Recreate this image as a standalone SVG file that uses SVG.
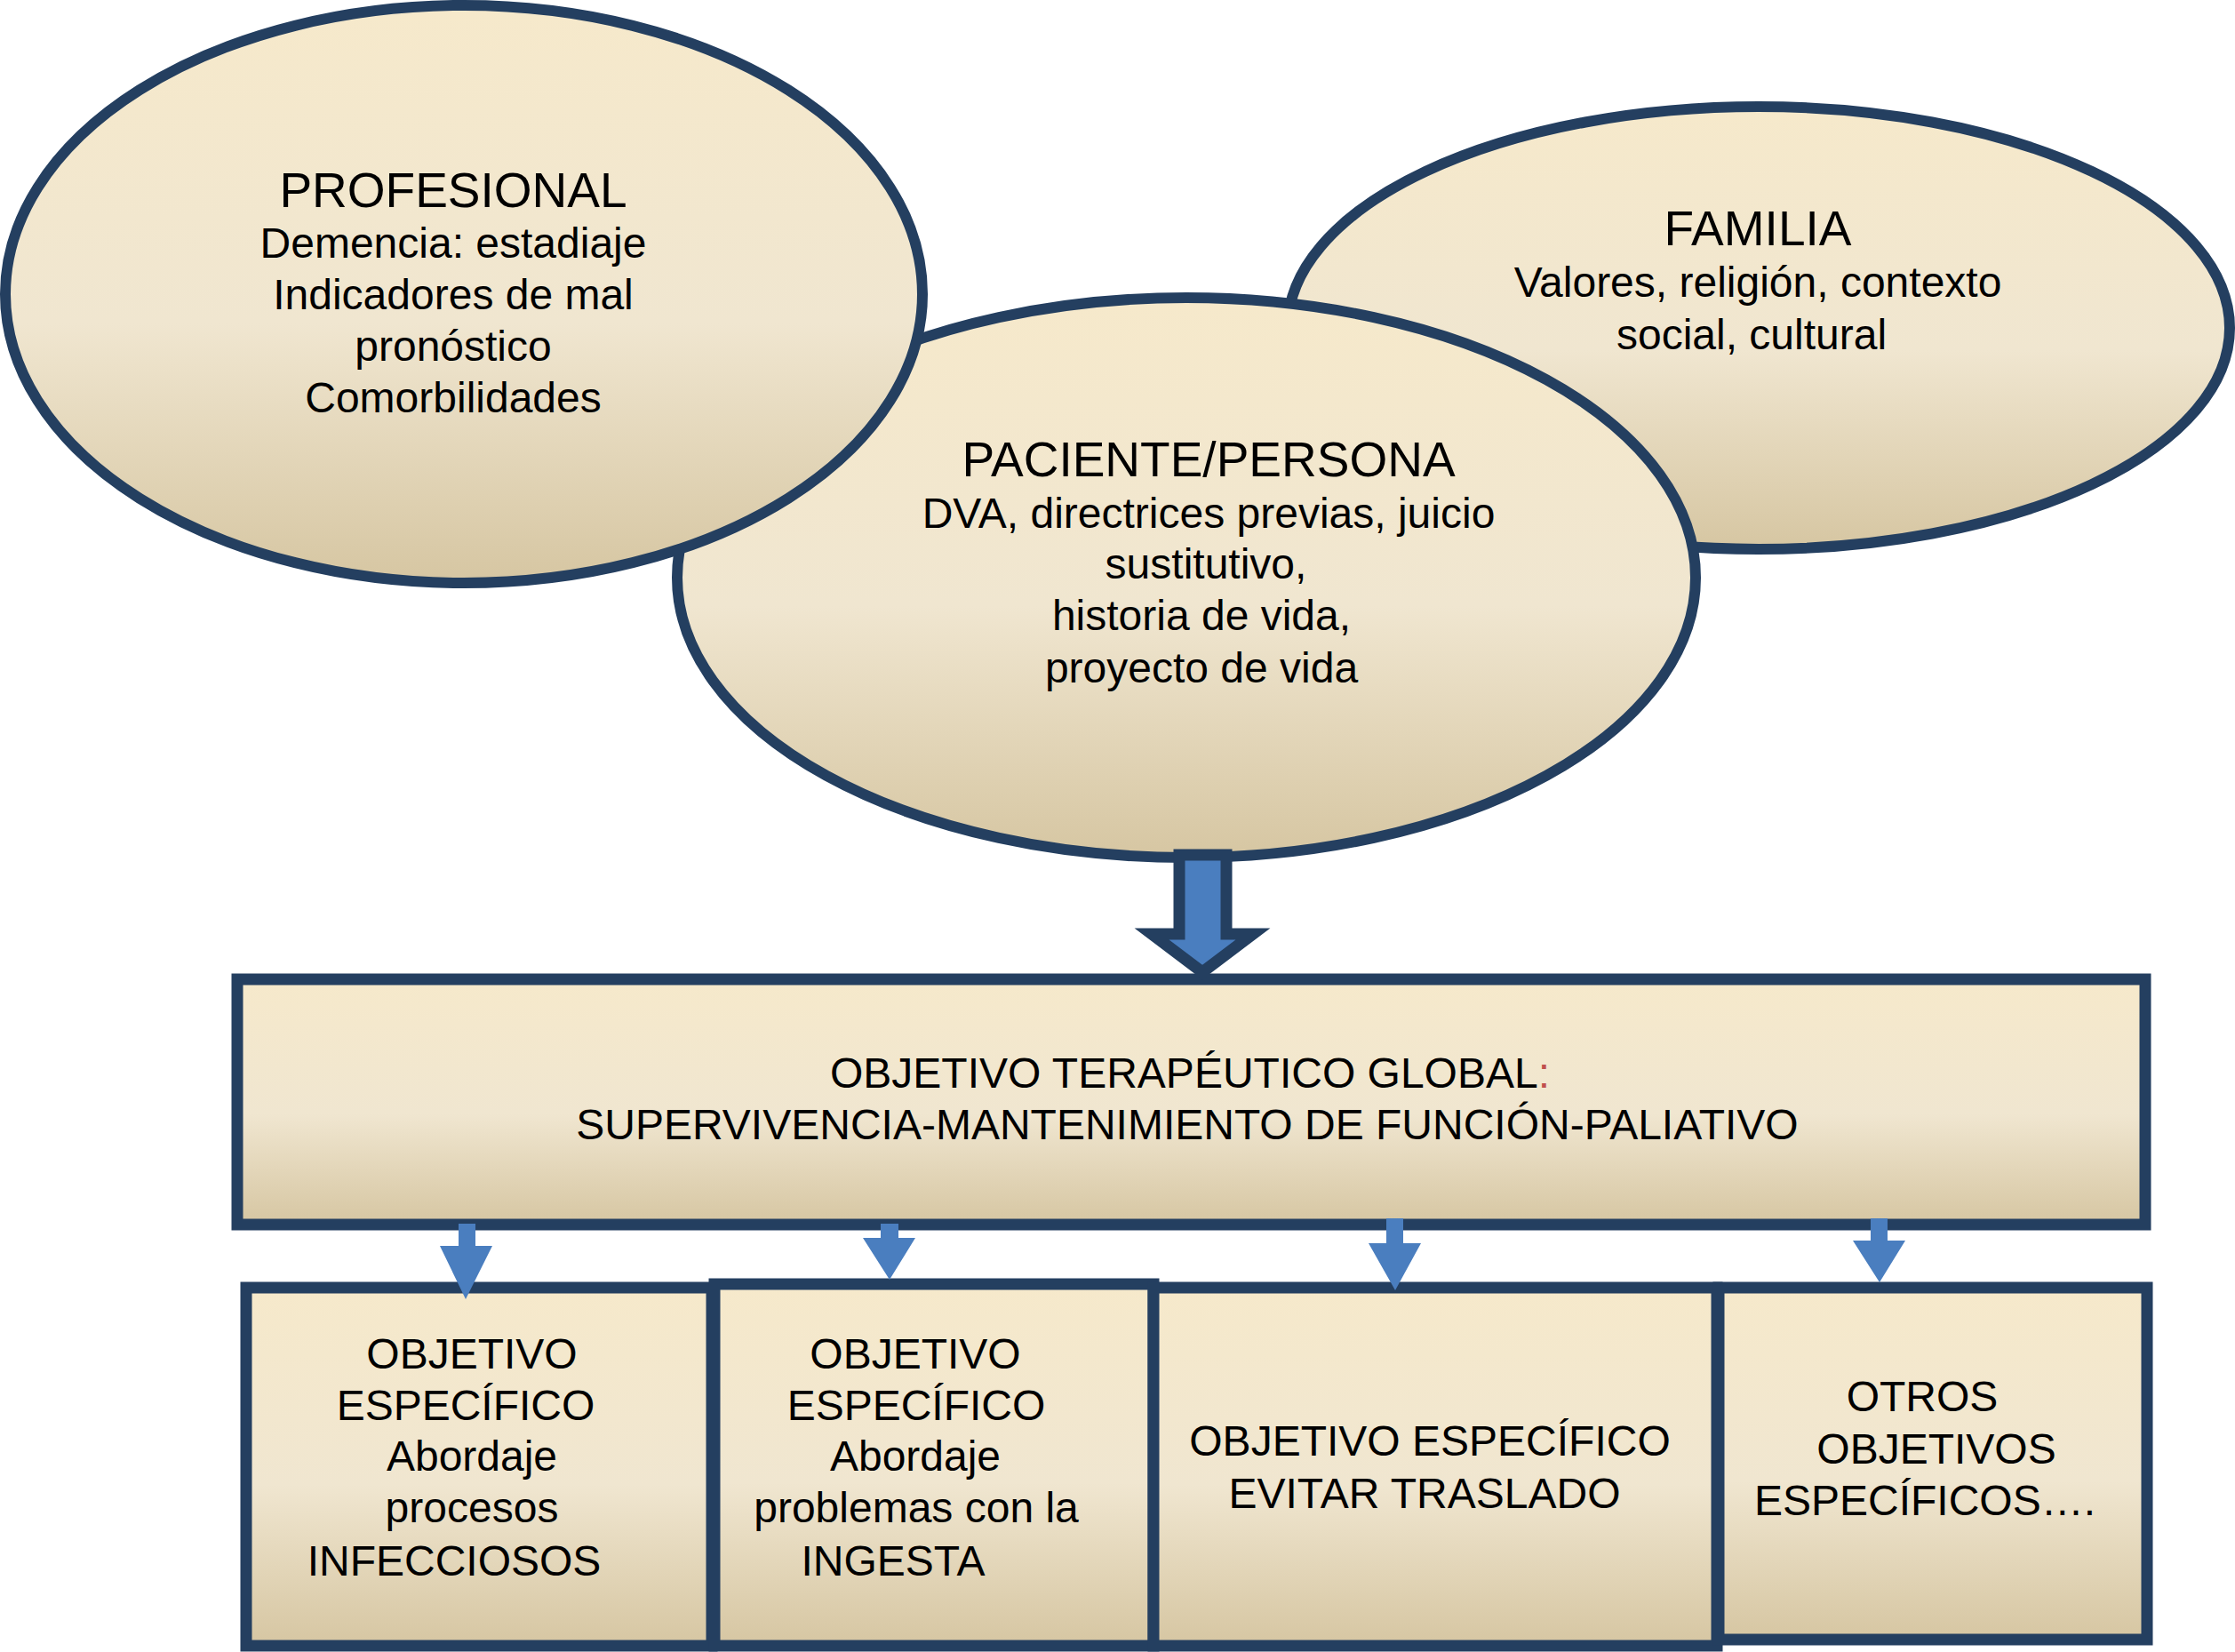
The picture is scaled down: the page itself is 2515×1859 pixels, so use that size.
<svg xmlns="http://www.w3.org/2000/svg" width="2515" height="1859" viewBox="0 0 2515 1859">
<defs>
<linearGradient id="g" x1="0" y1="0" x2="0" y2="1">
<stop offset="0" stop-color="#F6E9CB"/>
<stop offset="0.55" stop-color="#F0E6D0"/>
<stop offset="1" stop-color="#D6C6A2"/>
</linearGradient>
<style>
.n{fill:url(#g);stroke:#243F60;stroke-width:12}
.b{fill:url(#g);stroke:#243F60;stroke-width:13}
text{font-family:"Liberation Sans",Arial,sans-serif;font-size:48px;fill:#000;text-anchor:middle}
.t{font-size:55px}
.a{fill:#4A7EBF}
</style>
</defs>
<rect width="2515" height="1859" fill="#fff"/>
<g id="familia">
<ellipse class="n" cx="1979" cy="369" rx="530" ry="249"/>
<text class="t" x="1978" y="276">FAMILIA</text>
<text x="1978" y="334">Valores, religión, contexto</text>
<text x="1971" y="393">social, cultural</text>
</g>
<g id="paciente">
<ellipse class="n" cx="1335" cy="650" rx="573" ry="315"/>
<text class="t" x="1360" y="536">PACIENTE/PERSONA</text>
<text x="1360" y="594">DVA, directrices previas, juicio</text>
<text x="1357" y="651">sustitutivo,</text>
<text x="1352" y="709">historia de vida,</text>
<text x="1352" y="768">proyecto de vida</text>
</g>
<g id="profesional">
<ellipse class="n" cx="522" cy="331" rx="516" ry="325"/>
<text class="t" x="510" y="233">PROFESIONAL</text>
<text x="510" y="290">Demencia: estadiaje</text>
<text x="510" y="348">Indicadores de mal</text>
<text x="510" y="406">pronóstico</text>
<text x="510" y="464">Comorbilidades</text>
</g>
<g id="global">
<rect class="b" x="267" y="1102" width="2147" height="276"/>
<text x="1339" y="1224">OBJETIVO TERAPÉUTICO GLOBAL<tspan fill="#C0504D">:</tspan></text>
<text x="1336" y="1282">SUPERVIVENCIA-MANTENIMIENTO DE FUNCIÓN-PALIATIVO</text>
</g>
<g id="obj1">
<rect class="b" x="277" y="1449" width="524" height="403"/>
<text x="531" y="1540">OBJETIVO</text>
<text x="524" y="1598">ESPECÍFICO</text>
<text x="531" y="1655">Abordaje</text>
<text x="531" y="1713">procesos</text>
<text x="511" y="1773">INFECCIOSOS</text>
</g>
<g id="obj2">
<rect class="b" x="804" y="1445" width="494" height="407"/>
<text x="1030" y="1540">OBJETIVO</text>
<text x="1031" y="1598">ESPECÍFICO</text>
<text x="1030" y="1655">Abordaje</text>
<text x="1031" y="1713">problemas con la</text>
<text x="1005" y="1773">INGESTA</text>
</g>
<g id="obj3">
<rect class="b" x="1298" y="1449" width="634" height="403"/>
<text x="1609" y="1638">OBJETIVO ESPECÍFICO</text>
<text x="1603" y="1697">EVITAR TRASLADO</text>
</g>
<g id="obj4">
<rect class="b" x="1934" y="1449" width="482" height="396"/>
<text x="2163" y="1588">OTROS</text>
<text x="2179" y="1647">OBJETIVOS</text>
<text x="2166" y="1705">ESPECÍFICOS….</text>
</g>
<g id="connectors">
<polygon points="1327,962 1380,962 1380,1051 1410,1051 1353,1094 1296,1051 1327,1051" fill="#4A7EBF" stroke="#243F60" stroke-width="13" stroke-linejoin="miter"/>
<polygon class="a" points="516,1377 535,1377 535,1402 554,1402 524,1462 495,1402 516,1402"/>
<polygon class="a" points="991,1377 1011,1377 1011,1393 1030,1393 1001,1440 971,1393 991,1393"/>
<polygon class="a" points="1560,1371 1579,1371 1579,1399 1599,1399 1570,1452 1540,1399 1560,1399"/>
<polygon class="a" points="2105,1371 2124,1371 2124,1396 2144,1396 2115,1443 2085,1396 2105,1396"/>
</g>
</svg>
